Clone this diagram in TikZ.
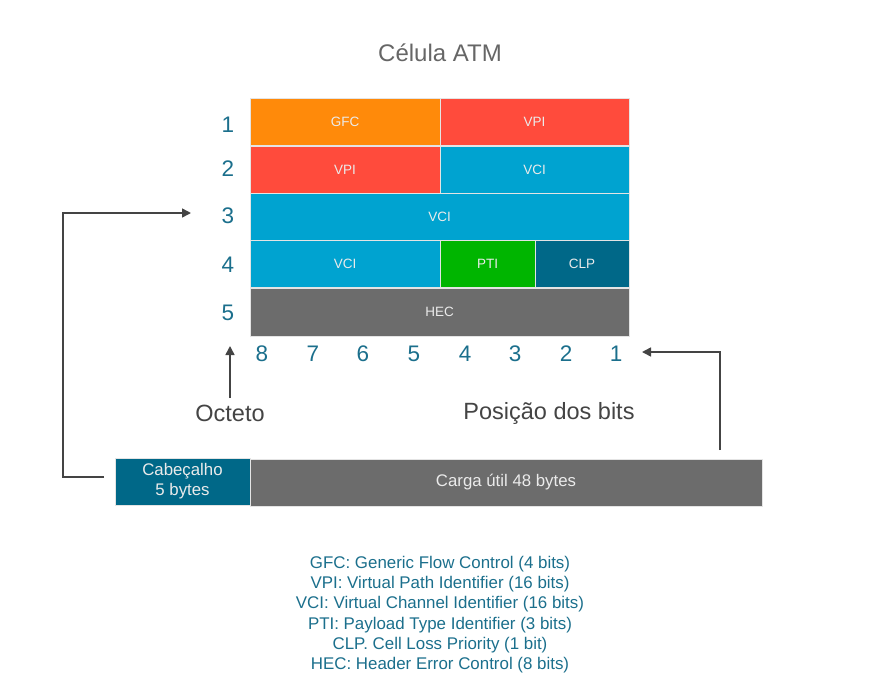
\documentclass[tikz,border=0pt]{standalone}
\usepackage{fontspec}
\setmainfont{Liberation Sans}
\usetikzlibrary{arrows.meta}
\definecolor{corange}{HTML}{FF8A0A}
\definecolor{cred}{HTML}{FF4B3C}
\definecolor{cblue}{HTML}{00A3D0}
\definecolor{cgreen}{HTML}{00B500}
\definecolor{cteal}{HTML}{006888}
\definecolor{cgray}{HTML}{6C6C6C}
\definecolor{cborder}{HTML}{E4E4E4}
\definecolor{ctext}{HTML}{1B6F8C}
\definecolor{carrow}{HTML}{444444}
\definecolor{ctitle}{HTML}{666666}
\tikzset{
  cell/.style={draw=cborder, line width=1pt, inner sep=0pt, text=white!92!black,
    font=\fontsize{13.5}{15}\selectfont, minimum height=47pt},
  rowlbl/.style={text=ctext, font=\fontsize{22.5}{24}\selectfont, inner sep=0pt},
  bitlbl/.style={text=ctext, font=\fontsize{22.5}{24}\selectfont, inner sep=0pt},
  caption/.style={text=carrow, font=\fontsize{23.5}{26}\selectfont, inner sep=0pt},
  conn/.style={draw=carrow, line width=1.6pt, -{Triangle[length=9pt,width=9pt]}},
}
\begin{document}
\begin{tikzpicture}[x=1pt,y=-1pt]
\useasboundingbox (0,0) rectangle (880,697);
% title
\node[text=ctitle, font=\fontsize{24}{26}\selectfont] (title) at (440,53) {Célula ATM};
% cells
\node[cell, fill=corange, minimum width=190pt] (gfc) at (345,122) {GFC};
\node[cell, fill=cred, minimum width=189pt] (vpi1) at (534.5,122) {VPI};
\node[cell, fill=cred, minimum width=190pt] (vpi2) at (345,169.5) {VPI};
\node[cell, fill=cblue, minimum width=189pt] (vci2) at (534.5,169.5) {VCI};
\node[cell, fill=cblue, minimum width=379pt] (vci3) at (439.5,216.5) {VCI};
\node[cell, fill=cblue, minimum width=190pt] (vci4) at (345,264) {VCI};
\node[cell, fill=cgreen, minimum width=95pt] (pti) at (487.5,264) {PTI};
\node[cell, fill=cteal, minimum width=94pt] (clp) at (582,264) {CLP};
\node[cell, fill=cgray, minimum width=379pt, minimum height=48pt] (hec) at (439.5,312) {HEC};
% row labels
\node[rowlbl] (r1) at (228,125) {1};
\node[rowlbl] (r2) at (228,169) {2};
\node[rowlbl] (r3) at (228,216) {3};
\node[rowlbl] (r4) at (228,265) {4};
\node[rowlbl] (r5) at (228,313) {5};
% bit labels
\node[bitlbl] (b8) at (262,354) {8};
\node[bitlbl] (b7) at (313,354) {7};
\node[bitlbl] (b6) at (363,354) {6};
\node[bitlbl] (b5) at (414,354) {5};
\node[bitlbl] (b4) at (465,354) {4};
\node[bitlbl] (b3) at (515,354) {3};
\node[bitlbl] (b2) at (566,354) {2};
\node[bitlbl] (b1) at (616,354) {1};
% captions
\node[caption] (octeto) at (230,413) {Octeto};
\node[caption] (posicao) at (549,413) {Posição dos bits};
% bottom bar
\node[draw=cborder, line width=1pt, fill=cteal, text=white!92!black, inner sep=0pt,
  minimum width=135pt, minimum height=47pt, align=center,
  font=\fontsize{16.8}{20}\selectfont] (cab) at (182.5,481.5) {Cabeçalho\\5 bytes};
\node[draw=cborder, line width=1pt, fill=cgray, text=white!92!black, inner sep=0pt,
  minimum width=512pt, minimum height=47pt,
  font=\fontsize{16.8}{20}\selectfont] (carga) at (506,482.5) {Carga útil 48 bytes};
% connectors
\coordinate (octtip) at (230,346);
\draw[conn] (octeto.north |- 0,398) -- (octtip);
\coordinate (cargastart) at (720,450);
\coordinate (bitstip) at (642,352);
\draw[conn] (cargastart) |- (bitstip);
\coordinate (cabstart) at (104,477);
\coordinate (leftcorner) at (63,477);
\coordinate (r3tip) at (191,213);
\draw[conn] (cabstart) -- (leftcorner) |- (r3tip);
% legend
\node[text=ctext, align=center, font=\fontsize{16.9}{20.3}\selectfont, inner sep=0pt]
  (legend) at (440,614.5) {GFC: Generic Flow Control (4 bits)\\
VPI: Virtual Path Identifier (16 bits)\\
VCI: Virtual Channel Identifier (16 bits)\\
PTI: Payload Type Identifier (3 bits)\\
CLP. Cell Loss Priority (1 bit)\\
HEC: Header Error Control (8 bits)};
\end{tikzpicture}
\end{document}
